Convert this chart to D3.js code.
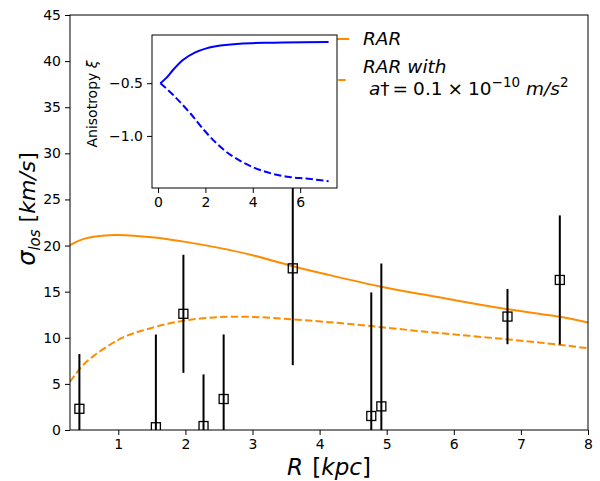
<!DOCTYPE html>
<html><head><meta charset="utf-8">
<script src="https://cdn.jsdelivr.net/npm/d3@7"></script>
<style>body{margin:0;background:#fff;} svg{display:block;} text{font-family:"DejaVu Sans",sans-serif;}</style>
</head><body><svg id="c" width="600" height="481"></svg>
<script>
// ---- data ----
const rarX = [0.28, 0.5, 0.75, 1.0, 1.5, 2.0, 2.5, 3.0, 3.6, 4.0, 4.9, 5.5, 6.0, 6.8, 7.6, 8.0];
const rarY = [20.05, 20.75, 21.05, 21.15, 20.9, 20.4, 19.75, 18.95, 17.75, 17.05, 15.55, 14.75, 14.1, 13.1, 12.25, 11.65];
const rarLowX = [0.28, 0.4, 0.6, 0.98, 1.32, 1.97, 2.8, 3.6, 4.3, 4.93, 5.8, 6.8, 7.6, 8.0];
const rarLowY = [5.24, 6.4, 7.85, 9.7, 10.7, 11.85, 12.29, 12.0, 11.6, 11.14, 10.5, 9.83, 9.22, 8.86];
const obsR = [0.42, 1.56, 1.97, 2.27, 2.57, 3.6, 4.77, 4.92, 6.8, 7.58];
const obsSigma = [2.3, 0.3, 12.6, 0.43, 3.36, 17.53, 1.52, 2.56, 12.3, 16.27];
const obsErr = [5.94, 10.05, 6.4, 5.6, 7.0, 10.5, 13.4, 15.5, 3.0, 7.0];
const xTicks = [1, 2, 3, 4, 5, 6, 7, 8];
const yTicks = [0, 5, 10, 15, 20, 25, 30, 35, 40, 45];
const anisoX = [0.1, 0.35, 0.63, 1.05, 1.55, 2.04, 2.74, 3.45, 4.85, 7.2];
const anisoY = [-0.5, -0.45, -0.375, -0.28, -0.21, -0.17, -0.14, -0.125, -0.116, -0.11];
const anisoLowX = [0.1, 0.63, 1.34, 2.04, 2.74, 3.45, 4.15, 4.85, 5.56, 6.26, 7.2];
const anisoLowY = [-0.5, -0.61, -0.78, -0.97, -1.125, -1.235, -1.31, -1.36, -1.39, -1.405, -1.43];
const insetXTicks = [0, 2, 4, 6];
const insetYTicks = [-0.5, -1.0];

const orange = "#ff8c00", blue = "#0000ff";
const svg = d3.select("#c");

// ---- main axes ----
const L = 70, R = 588, T = 15, B = 430;
const x = d3.scaleLinear().domain([0.28, 8]).range([L, R]);
const y = d3.scaleLinear().domain([0, 45]).range([B, T]);

const defs = svg.append("defs");
defs.append("clipPath").attr("id", "mclip").append("rect").attr("x", L).attr("y", T).attr("width", R - L).attr("height", B - T);

const plot = svg.append("g").attr("clip-path", "url(#mclip)");
const line = d3.line().x(d => x(d[0])).y(d => y(d[1])).curve(d3.curveNatural);
plot.append("path").datum(rarX.map((v, i) => [v, rarY[i]])).attr("d", line)
  .attr("fill", "none").attr("stroke", orange).attr("stroke-width", 2);
plot.append("path").datum(rarLowX.map((v, i) => [v, rarLowY[i]])).attr("d", line)
  .attr("fill", "none").attr("stroke", orange).attr("stroke-width", 2).attr("stroke-dasharray", "7.4,3.2");

const obs = obsR.map((v, i) => ({r: v, s: obsSigma[i], e: obsErr[i]}));
plot.selectAll("line.err").data(obs).join("line").attr("class", "err")
  .attr("x1", d => x(d.r)).attr("x2", d => x(d.r))
  .attr("y1", d => y(d.s - d.e)).attr("y2", d => y(d.s + d.e))
  .attr("stroke", "#000").attr("stroke-width", 2);
plot.selectAll("rect.pt").data(obs).join("rect").attr("class", "pt")
  .attr("x", d => x(d.r) - 4.5).attr("y", d => y(d.s) - 4.5).attr("width", 9).attr("height", 9)
  .attr("fill", "none").attr("stroke", "#000").attr("stroke-width", 1.3);

// axes
const xAxis = svg.append("g").attr("transform", `translate(0,${B})`)
  .call(d3.axisBottom(x).tickValues(xTicks).tickFormat(d3.format("d")).tickSize(5).tickPadding(4));
const yAxis = svg.append("g").attr("transform", `translate(${L},0)`)
  .call(d3.axisLeft(y).tickValues(yTicks).tickFormat(d3.format("d")).tickSize(5).tickPadding(4));
[xAxis, yAxis].forEach(a => {
  a.selectAll("text").attr("font-size", 14).attr("font-family", "DejaVu Sans").attr("fill", "#000");
  a.selectAll("line").attr("stroke", "#000").attr("stroke-width", 1);
  a.select(".domain").remove();
});
svg.append("rect").attr("x", L).attr("y", T).attr("width", R - L).attr("height", B - T)
  .attr("fill", "none").attr("stroke", "#000").attr("stroke-width", 1);

// axis labels
svg.append("text").attr("x", 329).attr("y", 475).attr("text-anchor", "middle").attr("font-size", 23)
  .html('<tspan font-style="italic">R</tspan><tspan dx="2"> [</tspan><tspan font-style="italic">kpc</tspan>]');
svg.append("text").attr("transform", "translate(35,209) rotate(-90)").attr("text-anchor", "middle").attr("font-size", 22)
  .html('<tspan font-style="italic" font-size="24">σ</tspan><tspan font-style="italic" font-size="15" dy="5">los</tspan><tspan dy="-5"> [</tspan><tspan font-style="italic">km/s</tspan>]');

// legend
const lg = svg.append("g");
lg.append("line").attr("x1", 317).attr("x2", 349).attr("y1", 39).attr("y2", 39).attr("stroke", orange).attr("stroke-width", 2);
lg.append("line").attr("x1", 317).attr("x2", 349).attr("y1", 80).attr("y2", 80).attr("stroke", orange).attr("stroke-width", 2).attr("stroke-dasharray", "7.4,3.2");
lg.append("text").attr("x", 363).attr("y", 45).attr("font-size", 18.5).attr("font-style", "italic").text("RAR");
lg.append("text").attr("x", 363).attr("y", 73).attr("font-size", 18.5).attr("font-style", "italic").text("RAR with");
lg.append("text").attr("x", 369).attr("y", 95).attr("font-size", 18.5)
  .html('<tspan font-style="italic">a</tspan>†<tspan dx="3">=</tspan><tspan dx="5">0.1</tspan><tspan dx="5">×</tspan><tspan dx="5">10</tspan><tspan font-size="13.5" dy="-8">−10</tspan><tspan dy="8" dx="6" font-style="italic">m/s</tspan><tspan font-size="13.5" dy="-8">2</tspan>');

// ---- inset ----
const iL = 152, iR = 337, iT = 35, iB = 188;
svg.append("rect").attr("x", iL).attr("y", iT).attr("width", iR - iL).attr("height", iB - iT).attr("fill", "#fff");
const ix = d3.scaleLinear().domain([-0.255, 7.555]).range([iL, iR]);
const iy = d3.scaleLinear().domain([-1.494, -0.043]).range([iB, iT]);
const iline = d3.line().x(d => ix(d[0])).y(d => iy(d[1])).curve(d3.curveMonotoneX);
svg.append("path").datum(anisoX.map((v, i) => [v, anisoY[i]])).attr("d", iline)
  .attr("fill", "none").attr("stroke", blue).attr("stroke-width", 2);
svg.append("path").datum(anisoLowX.map((v, i) => [v, anisoLowY[i]])).attr("d", iline)
  .attr("fill", "none").attr("stroke", blue).attr("stroke-width", 2).attr("stroke-dasharray", "7.4,3.2");
const ixa = svg.append("g").attr("transform", `translate(0,${iB})`)
  .call(d3.axisBottom(ix).tickValues(insetXTicks).tickFormat(d3.format("d")).tickSize(5).tickPadding(4));
const iya = svg.append("g").attr("transform", `translate(${iL},0)`)
  .call(d3.axisLeft(iy).tickValues(insetYTicks).tickFormat(d => d3.format(".1f")(d).replace("-", "−")).tickSize(5).tickPadding(4));
[ixa, iya].forEach(a => {
  a.selectAll("text").attr("font-size", 14).attr("font-family", "DejaVu Sans").attr("fill", "#000");
  a.selectAll("line").attr("stroke", "#000").attr("stroke-width", 1);
  a.select(".domain").remove();
});
svg.append("rect").attr("x", iL).attr("y", iT).attr("width", iR - iL).attr("height", iB - iT)
  .attr("fill", "none").attr("stroke", "#000").attr("stroke-width", 1);
svg.append("text").attr("transform", "translate(97,104) rotate(-90)").attr("text-anchor", "middle").attr("font-size", 14)
  .html('Anisotropy <tspan font-style="italic">ξ</tspan>');
</script></body></html>
